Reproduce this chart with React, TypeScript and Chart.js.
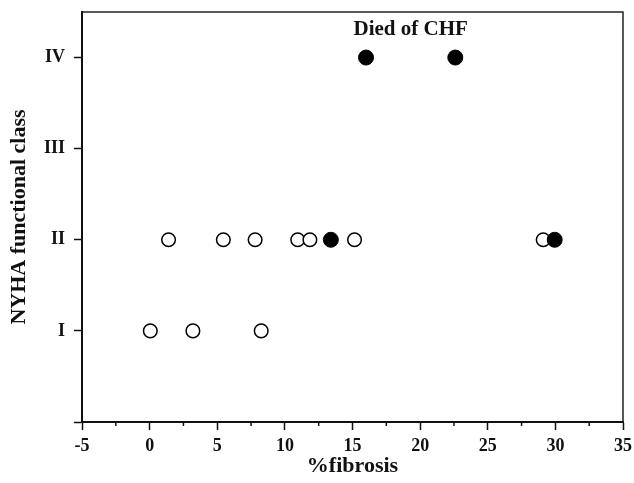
import React, { useEffect, useRef } from "react";
import { Chart, registerables } from "chart.js";

Chart.register(...registerables);

// ---- data ----
const openX = [0.05, 3.2, 8.25, 1.4, 5.45, 7.8, 10.95, 11.85, 15.15, 29.1];
const openY = [1, 1, 1, 2, 2, 2, 2, 2, 2, 2];
const filledX = [13.4, 29.95, 16.0, 22.6];
const filledY = [2, 2, 4, 4];
const yTickValues = [0, 1, 2, 3, 4];
const yTickLabels = ["", "I", "II", "III", "IV"];
const xMinorTicks = [-2.5, 2.5, 7.5, 12.5, 17.5, 22.5, 27.5, 32.5];
const annotationText = "Died of CHF";
const annotationPos = { x: 19.3, y: 4.31 };

const FONT = "'Liberation Serif', 'Times New Roman', serif";

const framePlugin = {
  id: "frame",
  afterDraw(chart: any) {
    const { ctx, chartArea, scales } = chart;
    ctx.save();
    ctx.strokeStyle = "#222";
    ctx.lineWidth = 1.5;
    ctx.beginPath();
    ctx.moveTo(chartArea.left, chartArea.top);
    ctx.lineTo(chartArea.right, chartArea.top);
    ctx.lineTo(chartArea.right, chartArea.bottom);
    ctx.stroke();
    ctx.strokeStyle = "#111";
    ctx.lineWidth = 1.5;
    const xs = scales.x;
    xMinorTicks.forEach((v) => {
      const px = xs.getPixelForValue(v);
      ctx.beginPath();
      ctx.moveTo(px, chartArea.bottom);
      ctx.lineTo(px, chartArea.bottom + 4);
      ctx.stroke();
    });
    ctx.fillStyle = "#111";
    ctx.font = `bold 21px ${FONT}`;
    ctx.textAlign = "center";
    ctx.textBaseline = "middle";
    ctx.fillText(
      annotationText,
      xs.getPixelForValue(annotationPos.x),
      scales.y.getPixelForValue(annotationPos.y)
    );
    ctx.restore();
  },
};

export default function App() {
  const ref = useRef<HTMLCanvasElement>(null);
  useEffect(() => {
    if (!ref.current) return;
    const chart = new Chart(ref.current, {
      type: "scatter",
      data: {
        datasets: [
          {
            label: "Died of CHF",
            data: filledX.map((x, i) => ({ x, y: filledY[i] })),
            backgroundColor: "#000",
            borderColor: "#000",
            borderWidth: 1,
            pointRadius: 7.5,
          },
          {
            label: "Alive",
            data: openX.map((x, i) => ({ x, y: openY[i] })),
            backgroundColor: "#fff",
            borderColor: "#000",
            borderWidth: 1.5,
            pointRadius: 6.8,
          },
        ],
      },
      options: {
        animation: false,
        responsive: false,
        maintainAspectRatio: false,
        layout: { padding: { top: 12, right: 11, left: 0, bottom: 0 } },
        plugins: { legend: { display: false }, tooltip: { enabled: false } },
        scales: {
          x: {
            type: "linear",
            min: -5,
            max: 35,
            afterFit: (s: any) => {
              s.height = 61;
              s.paddingLeft = 0;
              s.paddingRight = 0;
            },
            ticks: {
              stepSize: 5,
              color: "#111",
              padding: 6,
              font: { family: FONT, size: 18, weight: "bold" },
            },
            grid: {
              drawOnChartArea: false,
              drawTicks: true,
              tickLength: 8,
              tickWidth: 1.5,
              tickColor: "#111",
            },
            border: { display: true, color: "#111", width: 2 },
            title: {
              display: true,
              text: "%fibrosis",
              color: "#111",
              font: { family: FONT, size: 22, weight: "bold" },
              padding: { top: 4, bottom: 3 },
            },
          },
          y: {
            type: "linear",
            min: 0,
            max: 4.5,
            afterFit: (s: any) => {
              s.width = 82;
              s.paddingTop = 0;
              s.paddingBottom = 0;
            },
            afterBuildTicks: (s: any) => {
              s.ticks = yTickValues.map((v) => ({ value: v }));
            },
            ticks: {
              color: "#111",
              padding: 9,
              font: { family: FONT, size: 18, weight: "bold" },
              callback: (v: any) => {
                const i = yTickValues.indexOf(Number(v));
                return i >= 0 ? yTickLabels[i] : "";
              },
            },
            grid: {
              drawOnChartArea: false,
              drawTicks: true,
              tickLength: 8,
              tickWidth: 1.5,
              tickColor: "#111",
            },
            border: { display: true, color: "#111", width: 2 },
            title: {
              display: true,
              text: "NYHA functional class",
              color: "#111",
              font: { family: FONT, size: 22, weight: "bold" },
              padding: { top: 6, bottom: 4 },
            },
          },
        },
      },
      plugins: [framePlugin],
    });
    return () => chart.destroy();
  }, []);
  return (
    <div style={{ position: "fixed", left: 0, top: 0, width: 634, height: 483, background: "#fff" }}>
      <canvas ref={ref} width={634} height={483} style={{ display: "block" }} />
    </div>
  );
}
